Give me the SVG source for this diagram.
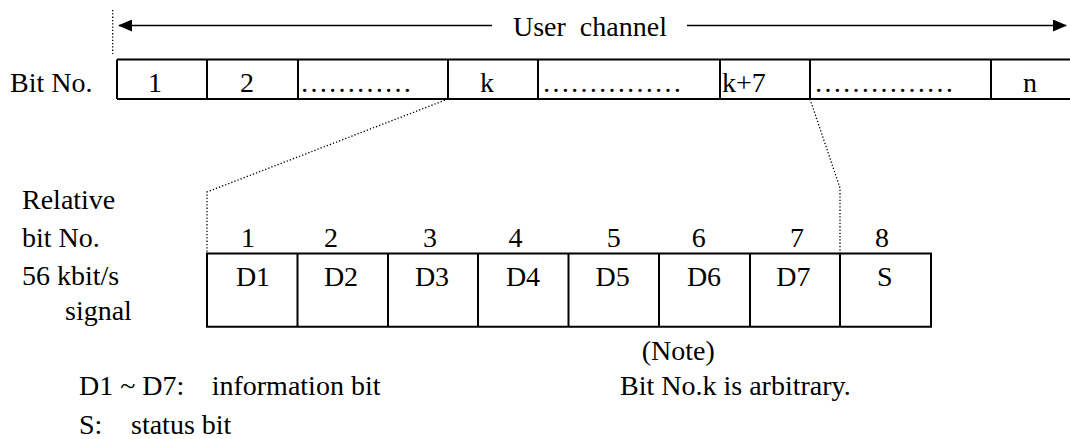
<svg xmlns="http://www.w3.org/2000/svg" width="1070" height="439" viewBox="0 0 1070 439">
<defs>
<marker id="ah" markerWidth="14" markerHeight="12" refX="13" refY="6" orient="auto-start-reverse" markerUnits="userSpaceOnUse">
<path d="M0,0 L14,6 L0,12 Z" fill="#000"/>
</marker>
</defs>
<style>
.box{fill:none;stroke:#000;stroke-width:2}
.dot{fill:none;stroke:#000;stroke-width:1.3;stroke-dasharray:1.3 2}
.arr{fill:none;stroke:#000;stroke-width:1.5}
</style>
<rect width="1070" height="439" fill="#fff"/>

<g id="connectors">
<line class="dot" x1="112.7" y1="10" x2="112.7" y2="54"/>
<line class="arr" x1="492" y1="25.5" x2="119" y2="25.5" marker-end="url(#ah)"/>
<line class="arr" x1="687" y1="25.5" x2="1066" y2="25.5" marker-end="url(#ah)"/>
<polyline class="dot" points="448,99 207,192 207,253"/>
<polyline class="dot" points="810,99 840,188 840,253"/>
</g>

<g font-family="Liberation Serif, Times New Roman, serif" font-size="28" fill="#000">
<g id="user-channel-label">
<text x="513" y="36" xml:space="preserve">User  channel</text>
</g>

<g id="top-row">
<text x="10" y="92">Bit No.</text>
<path class="box" d="M117,59.5 H1071 M117,99 H1071 M117,59.5 V99 M207,59.5 V99 M298,59.5 V99 M448,59.5 V99 M538,59.5 V99 M720,59.5 V99 M810,59.5 V99 M991,59.5 V99"/>
<g id="cell-1"><text text-anchor="middle" x="155" y="92">1</text></g>
<g id="cell-2"><text text-anchor="middle" x="247" y="92">2</text></g>
<g id="cell-dots1"><text x="300" y="92">…………</text></g>
<g id="cell-k"><text text-anchor="middle" x="487" y="92">k</text></g>
<g id="cell-dots2"><text x="542" y="92">……………</text></g>
<g id="cell-k7"><text x="722" y="92">k+7</text></g>
<g id="cell-dots3"><text x="814" y="92">……………</text></g>
<g id="cell-n"><text text-anchor="middle" x="1030" y="92">n</text></g>
</g>

<g id="row-labels">
<text x="22" y="209">Relative</text>
<text x="22" y="247">bit No.</text>
<text x="22" y="285">56 kbit/s</text>
<text x="65" y="320">signal</text>
</g>

<g id="relative-numbers" text-anchor="middle">
<text x="248" y="247">1</text>
<text x="331" y="247">2</text>
<text x="430" y="247">3</text>
<text x="515.5" y="247">4</text>
<text x="613.7" y="247">5</text>
<text x="698.7" y="247">6</text>
<text x="797" y="247">7</text>
<text x="882" y="247">8</text>
</g>

<g id="signal-row" text-anchor="middle">
<path class="box" d="M207,253.6 H931 V326.7 H207 Z M297.5,253.6 V326.7 M388,253.6 V326.7 M478,253.6 V326.7 M568.5,253.6 V326.7 M659,253.6 V326.7 M750,253.6 V326.7 M840,253.6 V326.7"/>
<g id="bit-D1"><text x="253" y="286">D1</text></g>
<g id="bit-D2"><text x="341" y="286">D2</text></g>
<g id="bit-D3"><text x="432" y="286">D3</text></g>
<g id="bit-D4"><text x="523" y="286">D4</text></g>
<g id="bit-D5"><text x="612.6" y="286">D5</text></g>
<g id="bit-D6"><text x="704" y="286">D6</text></g>
<g id="bit-D7"><text x="793.4" y="286">D7</text></g>
<g id="bit-S"><text x="884.7" y="286">S</text></g>
</g>

<g id="legend">
<text x="79" y="395">D1 ~ D7:</text>
<text x="211.7" y="395">information bit</text>
<text x="79" y="434">S:</text>
<text x="131" y="434">status bit</text>
</g>

<g id="note">
<text x="641.7" y="360">(Note)</text>
<text x="620" y="395">Bit No.k is arbitrary.</text>
</g>
</g>
</svg>
